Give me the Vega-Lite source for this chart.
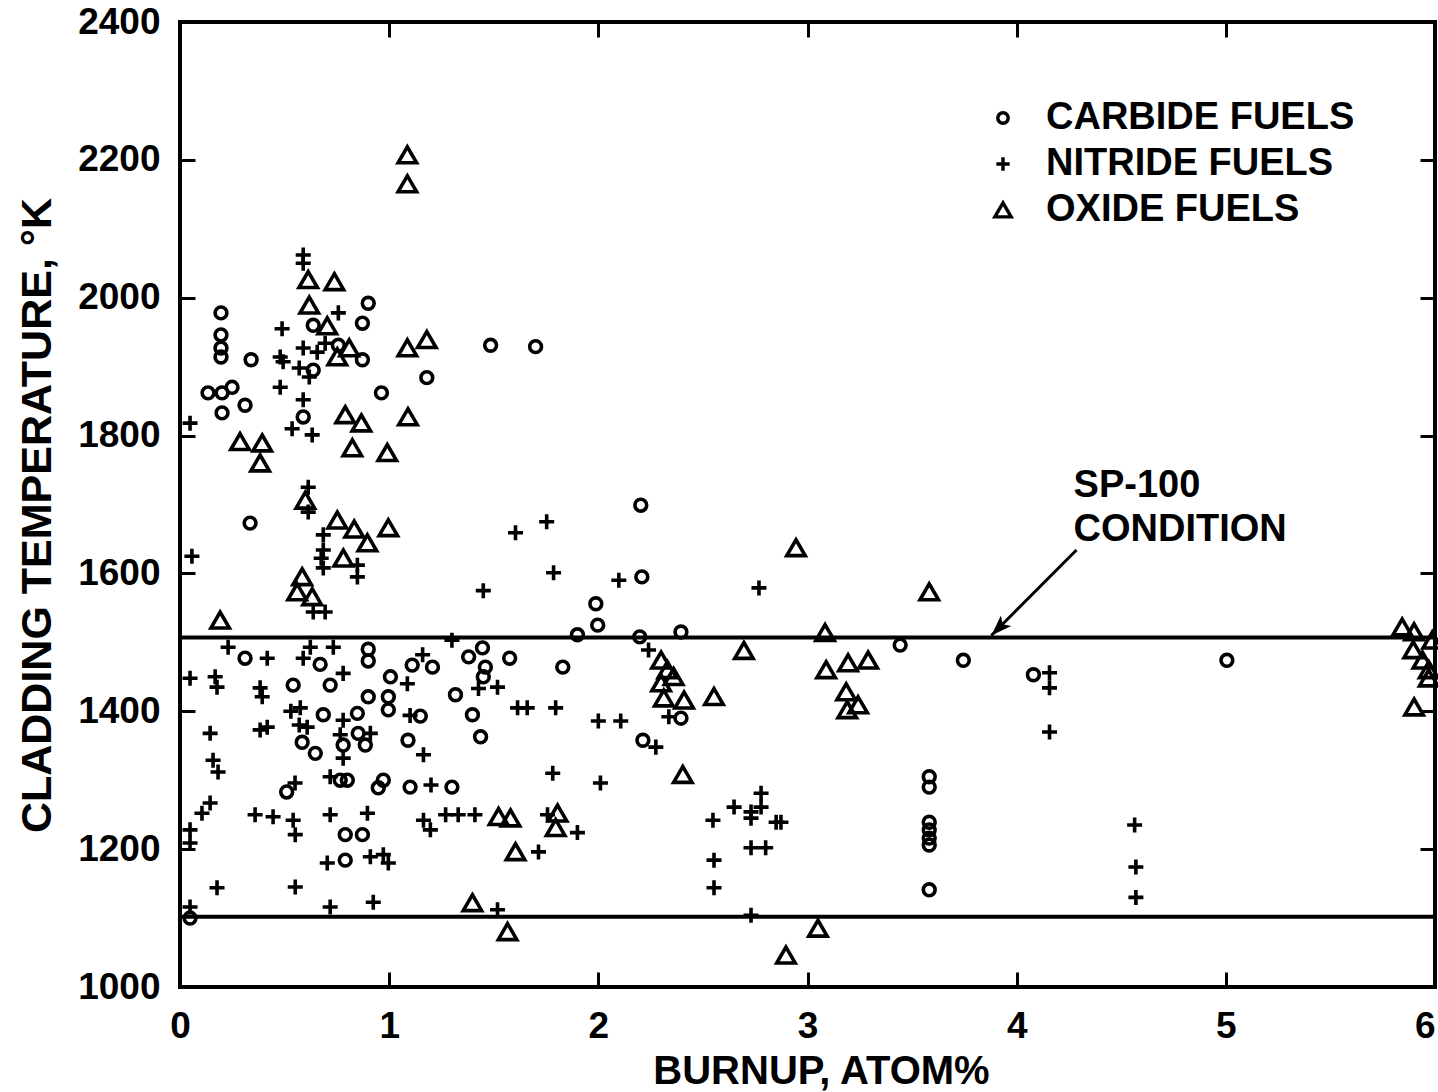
{
  "$schema": "https://vega.github.io/schema/vega-lite/v6.json",
  "width": 1255,
  "height": 965,
  "autosize": {"type": "none"},
  "padding": {"left": 180, "top": 22, "right": 3, "bottom": 105},
  "background": "white",
  "config": {
    "view": {"stroke": "black", "strokeWidth": 4},
    "font": "Liberation Sans",
    "axis": {
      "grid": false,
      "domain": false,
      "tickColor": "black",
      "tickWidth": 3,
      "labelColor": "black",
      "titleColor": "black",
      "labelFont": "Liberation Sans",
      "titleFont": "Liberation Sans",
      "labelFontWeight": "bold",
      "titleFontWeight": "bold",
      "labelFlush": false,
      "labelOverlap": false,
      "labelBound": false
    }
  },
  "datasets": {
    "pts": [
      {"burnup": 0.90, "temp": 1992, "fuel": "CARBIDE FUELS"},
      {"burnup": 0.196, "temp": 1978, "fuel": "CARBIDE FUELS"},
      {"burnup": 0.196, "temp": 1946, "fuel": "CARBIDE FUELS"},
      {"burnup": 0.196, "temp": 1927, "fuel": "CARBIDE FUELS"},
      {"burnup": 0.196, "temp": 1914, "fuel": "CARBIDE FUELS"},
      {"burnup": 0.637, "temp": 1960, "fuel": "CARBIDE FUELS"},
      {"burnup": 0.872, "temp": 1963, "fuel": "CARBIDE FUELS"},
      {"burnup": 0.34, "temp": 1910, "fuel": "CARBIDE FUELS"},
      {"burnup": 0.757, "temp": 1931, "fuel": "CARBIDE FUELS"},
      {"burnup": 0.872, "temp": 1910, "fuel": "CARBIDE FUELS"},
      {"burnup": 0.637, "temp": 1895, "fuel": "CARBIDE FUELS"},
      {"burnup": 0.134, "temp": 1862, "fuel": "CARBIDE FUELS"},
      {"burnup": 0.201, "temp": 1862, "fuel": "CARBIDE FUELS"},
      {"burnup": 0.249, "temp": 1870, "fuel": "CARBIDE FUELS"},
      {"burnup": 0.311, "temp": 1844, "fuel": "CARBIDE FUELS"},
      {"burnup": 0.201, "temp": 1833, "fuel": "CARBIDE FUELS"},
      {"burnup": 0.963, "temp": 1862, "fuel": "CARBIDE FUELS"},
      {"burnup": 1.18, "temp": 1884, "fuel": "CARBIDE FUELS"},
      {"burnup": 0.589, "temp": 1827, "fuel": "CARBIDE FUELS"},
      {"burnup": 1.485, "temp": 1931, "fuel": "CARBIDE FUELS"},
      {"burnup": 1.70, "temp": 1929, "fuel": "CARBIDE FUELS"},
      {"burnup": 0.335, "temp": 1673, "fuel": "CARBIDE FUELS"},
      {"burnup": 2.203, "temp": 1699, "fuel": "CARBIDE FUELS"},
      {"burnup": 2.208, "temp": 1595, "fuel": "CARBIDE FUELS"},
      {"burnup": 1.988, "temp": 1556, "fuel": "CARBIDE FUELS"},
      {"burnup": 1.997, "temp": 1525, "fuel": "CARBIDE FUELS"},
      {"burnup": 1.90, "temp": 1511, "fuel": "CARBIDE FUELS"},
      {"burnup": 2.198, "temp": 1508, "fuel": "CARBIDE FUELS"},
      {"burnup": 2.395, "temp": 1515, "fuel": "CARBIDE FUELS"},
      {"burnup": 0.311, "temp": 1477, "fuel": "CARBIDE FUELS"},
      {"burnup": 0.67, "temp": 1468, "fuel": "CARBIDE FUELS"},
      {"burnup": 0.90, "temp": 1490, "fuel": "CARBIDE FUELS"},
      {"burnup": 0.90, "temp": 1473, "fuel": "CARBIDE FUELS"},
      {"burnup": 0.541, "temp": 1438, "fuel": "CARBIDE FUELS"},
      {"burnup": 0.718, "temp": 1438, "fuel": "CARBIDE FUELS"},
      {"burnup": 1.006, "temp": 1450, "fuel": "CARBIDE FUELS"},
      {"burnup": 1.11, "temp": 1467, "fuel": "CARBIDE FUELS"},
      {"burnup": 0.90, "temp": 1421, "fuel": "CARBIDE FUELS"},
      {"burnup": 0.996, "temp": 1421, "fuel": "CARBIDE FUELS"},
      {"burnup": 0.996, "temp": 1402, "fuel": "CARBIDE FUELS"},
      {"burnup": 1.149, "temp": 1393, "fuel": "CARBIDE FUELS"},
      {"burnup": 0.685, "temp": 1395, "fuel": "CARBIDE FUELS"},
      {"burnup": 0.848, "temp": 1397, "fuel": "CARBIDE FUELS"},
      {"burnup": 0.584, "temp": 1355, "fuel": "CARBIDE FUELS"},
      {"burnup": 0.647, "temp": 1339, "fuel": "CARBIDE FUELS"},
      {"burnup": 0.78, "temp": 1351, "fuel": "CARBIDE FUELS"},
      {"burnup": 0.852, "temp": 1368, "fuel": "CARBIDE FUELS"},
      {"burnup": 0.886, "temp": 1351, "fuel": "CARBIDE FUELS"},
      {"burnup": 1.09, "temp": 1358, "fuel": "CARBIDE FUELS"},
      {"burnup": 0.766, "temp": 1300, "fuel": "CARBIDE FUELS"},
      {"burnup": 0.80, "temp": 1300, "fuel": "CARBIDE FUELS"},
      {"burnup": 0.948, "temp": 1289, "fuel": "CARBIDE FUELS"},
      {"burnup": 0.972, "temp": 1300, "fuel": "CARBIDE FUELS"},
      {"burnup": 1.10, "temp": 1290, "fuel": "CARBIDE FUELS"},
      {"burnup": 0.51, "temp": 1283, "fuel": "CARBIDE FUELS"},
      {"burnup": 0.79, "temp": 1221, "fuel": "CARBIDE FUELS"},
      {"burnup": 0.872, "temp": 1221, "fuel": "CARBIDE FUELS"},
      {"burnup": 0.79, "temp": 1184, "fuel": "CARBIDE FUELS"},
      {"burnup": 0.048, "temp": 1100, "fuel": "CARBIDE FUELS"},
      {"burnup": 1.207, "temp": 1464, "fuel": "CARBIDE FUELS"},
      {"burnup": 1.38, "temp": 1479, "fuel": "CARBIDE FUELS"},
      {"burnup": 1.446, "temp": 1492, "fuel": "CARBIDE FUELS"},
      {"burnup": 1.46, "temp": 1464, "fuel": "CARBIDE FUELS"},
      {"burnup": 1.45, "temp": 1450, "fuel": "CARBIDE FUELS"},
      {"burnup": 1.576, "temp": 1477, "fuel": "CARBIDE FUELS"},
      {"burnup": 1.83, "temp": 1464, "fuel": "CARBIDE FUELS"},
      {"burnup": 1.317, "temp": 1424, "fuel": "CARBIDE FUELS"},
      {"burnup": 1.398, "temp": 1395, "fuel": "CARBIDE FUELS"},
      {"burnup": 1.437, "temp": 1363, "fuel": "CARBIDE FUELS"},
      {"burnup": 1.30, "temp": 1290, "fuel": "CARBIDE FUELS"},
      {"burnup": 2.213, "temp": 1358, "fuel": "CARBIDE FUELS"},
      {"burnup": 2.395, "temp": 1390, "fuel": "CARBIDE FUELS"},
      {"burnup": 3.443, "temp": 1496, "fuel": "CARBIDE FUELS"},
      {"burnup": 3.745, "temp": 1474, "fuel": "CARBIDE FUELS"},
      {"burnup": 4.08, "temp": 1453, "fuel": "CARBIDE FUELS"},
      {"burnup": 5.005, "temp": 1474, "fuel": "CARBIDE FUELS"},
      {"burnup": 3.582, "temp": 1305, "fuel": "CARBIDE FUELS"},
      {"burnup": 3.582, "temp": 1290, "fuel": "CARBIDE FUELS"},
      {"burnup": 3.582, "temp": 1239, "fuel": "CARBIDE FUELS"},
      {"burnup": 3.582, "temp": 1228, "fuel": "CARBIDE FUELS"},
      {"burnup": 3.582, "temp": 1216, "fuel": "CARBIDE FUELS"},
      {"burnup": 3.582, "temp": 1206, "fuel": "CARBIDE FUELS"},
      {"burnup": 3.582, "temp": 1141, "fuel": "CARBIDE FUELS"},

      {"burnup": 0.589, "temp": 2062, "fuel": "NITRIDE FUELS"},
      {"burnup": 0.589, "temp": 2050, "fuel": "NITRIDE FUELS"},
      {"burnup": 0.757, "temp": 1978, "fuel": "NITRIDE FUELS"},
      {"burnup": 0.488, "temp": 1955, "fuel": "NITRIDE FUELS"},
      {"burnup": 0.479, "temp": 1914, "fuel": "NITRIDE FUELS"},
      {"burnup": 0.493, "temp": 1907, "fuel": "NITRIDE FUELS"},
      {"burnup": 0.589, "temp": 1927, "fuel": "NITRIDE FUELS"},
      {"burnup": 0.656, "temp": 1921, "fuel": "NITRIDE FUELS"},
      {"burnup": 0.694, "temp": 1934, "fuel": "NITRIDE FUELS"},
      {"burnup": 0.57, "temp": 1898, "fuel": "NITRIDE FUELS"},
      {"burnup": 0.618, "temp": 1885, "fuel": "NITRIDE FUELS"},
      {"burnup": 0.479, "temp": 1870, "fuel": "NITRIDE FUELS"},
      {"burnup": 0.589, "temp": 1852, "fuel": "NITRIDE FUELS"},
      {"burnup": 0.536, "temp": 1810, "fuel": "NITRIDE FUELS"},
      {"burnup": 0.632, "temp": 1801, "fuel": "NITRIDE FUELS"},
      {"burnup": 0.048, "temp": 1818, "fuel": "NITRIDE FUELS"},
      {"burnup": 0.613, "temp": 1725, "fuel": "NITRIDE FUELS"},
      {"burnup": 0.613, "temp": 1689, "fuel": "NITRIDE FUELS"},
      {"burnup": 0.685, "temp": 1656, "fuel": "NITRIDE FUELS"},
      {"burnup": 0.685, "temp": 1634, "fuel": "NITRIDE FUELS"},
      {"burnup": 0.675, "temp": 1622, "fuel": "NITRIDE FUELS"},
      {"burnup": 0.685, "temp": 1608, "fuel": "NITRIDE FUELS"},
      {"burnup": 0.848, "temp": 1612, "fuel": "NITRIDE FUELS"},
      {"burnup": 0.848, "temp": 1595, "fuel": "NITRIDE FUELS"},
      {"burnup": 0.057, "temp": 1625, "fuel": "NITRIDE FUELS"},
      {"burnup": 0.637, "temp": 1544, "fuel": "NITRIDE FUELS"},
      {"burnup": 0.694, "temp": 1544, "fuel": "NITRIDE FUELS"},
      {"burnup": 1.604, "temp": 1659, "fuel": "NITRIDE FUELS"},
      {"burnup": 1.753, "temp": 1675, "fuel": "NITRIDE FUELS"},
      {"burnup": 1.786, "temp": 1601, "fuel": "NITRIDE FUELS"},
      {"burnup": 1.45, "temp": 1575, "fuel": "NITRIDE FUELS"},
      {"burnup": 2.098, "temp": 1590, "fuel": "NITRIDE FUELS"},
      {"burnup": 1.30, "temp": 1503, "fuel": "NITRIDE FUELS"},
      {"burnup": 2.24, "temp": 1489, "fuel": "NITRIDE FUELS"},
      {"burnup": 2.768, "temp": 1579, "fuel": "NITRIDE FUELS"},
      {"burnup": 0.23, "temp": 1493, "fuel": "NITRIDE FUELS"},
      {"burnup": 0.417, "temp": 1477, "fuel": "NITRIDE FUELS"},
      {"burnup": 0.623, "temp": 1493, "fuel": "NITRIDE FUELS"},
      {"burnup": 0.733, "temp": 1493, "fuel": "NITRIDE FUELS"},
      {"burnup": 0.589, "temp": 1477, "fuel": "NITRIDE FUELS"},
      {"burnup": 0.048, "temp": 1448, "fuel": "NITRIDE FUELS"},
      {"burnup": 0.168, "temp": 1450, "fuel": "NITRIDE FUELS"},
      {"burnup": 0.177, "temp": 1435, "fuel": "NITRIDE FUELS"},
      {"burnup": 0.383, "temp": 1434, "fuel": "NITRIDE FUELS"},
      {"burnup": 0.393, "temp": 1421, "fuel": "NITRIDE FUELS"},
      {"burnup": 0.78, "temp": 1455, "fuel": "NITRIDE FUELS"},
      {"burnup": 1.087, "temp": 1440, "fuel": "NITRIDE FUELS"},
      {"burnup": 0.53, "temp": 1400, "fuel": "NITRIDE FUELS"},
      {"burnup": 0.575, "temp": 1405, "fuel": "NITRIDE FUELS"},
      {"burnup": 0.57, "temp": 1380, "fuel": "NITRIDE FUELS"},
      {"burnup": 0.78, "temp": 1387, "fuel": "NITRIDE FUELS"},
      {"burnup": 0.144, "temp": 1368, "fuel": "NITRIDE FUELS"},
      {"burnup": 0.383, "temp": 1373, "fuel": "NITRIDE FUELS"},
      {"burnup": 0.417, "temp": 1377, "fuel": "NITRIDE FUELS"},
      {"burnup": 0.608, "temp": 1377, "fuel": "NITRIDE FUELS"},
      {"burnup": 0.766, "temp": 1366, "fuel": "NITRIDE FUELS"},
      {"burnup": 0.78, "temp": 1332, "fuel": "NITRIDE FUELS"},
      {"burnup": 0.91, "temp": 1368, "fuel": "NITRIDE FUELS"},
      {"burnup": 1.164, "temp": 1337, "fuel": "NITRIDE FUELS"},
      {"burnup": 1.10, "temp": 1394, "fuel": "NITRIDE FUELS"},
      {"burnup": 0.158, "temp": 1329, "fuel": "NITRIDE FUELS"},
      {"burnup": 0.182, "temp": 1312, "fuel": "NITRIDE FUELS"},
      {"burnup": 0.718, "temp": 1305, "fuel": "NITRIDE FUELS"},
      {"burnup": 1.20, "temp": 1293, "fuel": "NITRIDE FUELS"},
      {"burnup": 0.55, "temp": 1296, "fuel": "NITRIDE FUELS"},
      {"burnup": 0.144, "temp": 1267, "fuel": "NITRIDE FUELS"},
      {"burnup": 0.105, "temp": 1252, "fuel": "NITRIDE FUELS"},
      {"burnup": 0.359, "temp": 1250, "fuel": "NITRIDE FUELS"},
      {"burnup": 0.445, "temp": 1247, "fuel": "NITRIDE FUELS"},
      {"burnup": 0.541, "temp": 1242, "fuel": "NITRIDE FUELS"},
      {"burnup": 0.718, "temp": 1250, "fuel": "NITRIDE FUELS"},
      {"burnup": 0.896, "temp": 1252, "fuel": "NITRIDE FUELS"},
      {"burnup": 1.164, "temp": 1242, "fuel": "NITRIDE FUELS"},
      {"burnup": 1.197, "temp": 1228, "fuel": "NITRIDE FUELS"},
      {"burnup": 1.27, "temp": 1250, "fuel": "NITRIDE FUELS"},
      {"burnup": 1.33, "temp": 1250, "fuel": "NITRIDE FUELS"},
      {"burnup": 1.41, "temp": 1250, "fuel": "NITRIDE FUELS"},
      {"burnup": 0.551, "temp": 1221, "fuel": "NITRIDE FUELS"},
      {"burnup": 0.704, "temp": 1180, "fuel": "NITRIDE FUELS"},
      {"burnup": 0.91, "temp": 1189, "fuel": "NITRIDE FUELS"},
      {"burnup": 0.972, "temp": 1192, "fuel": "NITRIDE FUELS"},
      {"burnup": 0.996, "temp": 1180, "fuel": "NITRIDE FUELS"},
      {"burnup": 0.048, "temp": 1228, "fuel": "NITRIDE FUELS"},
      {"burnup": 0.048, "temp": 1209, "fuel": "NITRIDE FUELS"},
      {"burnup": 0.177, "temp": 1144, "fuel": "NITRIDE FUELS"},
      {"burnup": 0.551, "temp": 1145, "fuel": "NITRIDE FUELS"},
      {"burnup": 0.718, "temp": 1116, "fuel": "NITRIDE FUELS"},
      {"burnup": 0.924, "temp": 1123, "fuel": "NITRIDE FUELS"},
      {"burnup": 0.048, "temp": 1116, "fuel": "NITRIDE FUELS"},
      {"burnup": 1.16, "temp": 1482, "fuel": "NITRIDE FUELS"},
      {"burnup": 1.427, "temp": 1433, "fuel": "NITRIDE FUELS"},
      {"burnup": 1.518, "temp": 1435, "fuel": "NITRIDE FUELS"},
      {"burnup": 1.614, "temp": 1405, "fuel": "NITRIDE FUELS"},
      {"burnup": 1.66, "temp": 1405, "fuel": "NITRIDE FUELS"},
      {"burnup": 1.796, "temp": 1405, "fuel": "NITRIDE FUELS"},
      {"burnup": 2.0, "temp": 1386, "fuel": "NITRIDE FUELS"},
      {"burnup": 2.107, "temp": 1386, "fuel": "NITRIDE FUELS"},
      {"burnup": 2.275, "temp": 1348, "fuel": "NITRIDE FUELS"},
      {"burnup": 2.337, "temp": 1392, "fuel": "NITRIDE FUELS"},
      {"burnup": 1.782, "temp": 1310, "fuel": "NITRIDE FUELS"},
      {"burnup": 2.01, "temp": 1296, "fuel": "NITRIDE FUELS"},
      {"burnup": 1.757, "temp": 1250, "fuel": "NITRIDE FUELS"},
      {"burnup": 1.90, "temp": 1224, "fuel": "NITRIDE FUELS"},
      {"burnup": 1.714, "temp": 1196, "fuel": "NITRIDE FUELS"},
      {"burnup": 1.518, "temp": 1112, "fuel": "NITRIDE FUELS"},
      {"burnup": 2.548, "temp": 1242, "fuel": "NITRIDE FUELS"},
      {"burnup": 2.649, "temp": 1261, "fuel": "NITRIDE FUELS"},
      {"burnup": 2.73, "temp": 1245, "fuel": "NITRIDE FUELS"},
      {"burnup": 2.73, "temp": 1254, "fuel": "NITRIDE FUELS"},
      {"burnup": 2.778, "temp": 1281, "fuel": "NITRIDE FUELS"},
      {"burnup": 2.778, "temp": 1261, "fuel": "NITRIDE FUELS"},
      {"burnup": 2.85, "temp": 1239, "fuel": "NITRIDE FUELS"},
      {"burnup": 2.873, "temp": 1239, "fuel": "NITRIDE FUELS"},
      {"burnup": 2.73, "temp": 1202, "fuel": "NITRIDE FUELS"},
      {"burnup": 2.80, "temp": 1202, "fuel": "NITRIDE FUELS"},
      {"burnup": 2.553, "temp": 1184, "fuel": "NITRIDE FUELS"},
      {"burnup": 2.553, "temp": 1144, "fuel": "NITRIDE FUELS"},
      {"burnup": 2.73, "temp": 1104, "fuel": "NITRIDE FUELS"},
      {"burnup": 4.157, "temp": 1456, "fuel": "NITRIDE FUELS"},
      {"burnup": 4.157, "temp": 1434, "fuel": "NITRIDE FUELS"},
      {"burnup": 4.157, "temp": 1370, "fuel": "NITRIDE FUELS"},
      {"burnup": 4.564, "temp": 1235, "fuel": "NITRIDE FUELS"},
      {"burnup": 4.57, "temp": 1174, "fuel": "NITRIDE FUELS"},
      {"burnup": 4.57, "temp": 1130, "fuel": "NITRIDE FUELS"},

      {"burnup": 1.087, "temp": 2207, "fuel": "OXIDE FUELS"},
      {"burnup": 1.087, "temp": 2165, "fuel": "OXIDE FUELS"},
      {"burnup": 0.613, "temp": 2026, "fuel": "OXIDE FUELS"},
      {"burnup": 0.738, "temp": 2023, "fuel": "OXIDE FUELS"},
      {"burnup": 0.618, "temp": 1989, "fuel": "OXIDE FUELS"},
      {"burnup": 0.704, "temp": 1959, "fuel": "OXIDE FUELS"},
      {"burnup": 0.809, "temp": 1927, "fuel": "OXIDE FUELS"},
      {"burnup": 0.752, "temp": 1914, "fuel": "OXIDE FUELS"},
      {"burnup": 1.087, "temp": 1927, "fuel": "OXIDE FUELS"},
      {"burnup": 1.18, "temp": 1939, "fuel": "OXIDE FUELS"},
      {"burnup": 1.09, "temp": 1827, "fuel": "OXIDE FUELS"},
      {"burnup": 0.79, "temp": 1830, "fuel": "OXIDE FUELS"},
      {"burnup": 0.867, "temp": 1818, "fuel": "OXIDE FUELS"},
      {"burnup": 0.287, "temp": 1791, "fuel": "OXIDE FUELS"},
      {"burnup": 0.393, "temp": 1789, "fuel": "OXIDE FUELS"},
      {"burnup": 0.383, "temp": 1760, "fuel": "OXIDE FUELS"},
      {"burnup": 0.824, "temp": 1782, "fuel": "OXIDE FUELS"},
      {"burnup": 0.991, "temp": 1775, "fuel": "OXIDE FUELS"},
      {"burnup": 0.599, "temp": 1706, "fuel": "OXIDE FUELS"},
      {"burnup": 0.752, "temp": 1677, "fuel": "OXIDE FUELS"},
      {"burnup": 0.833, "temp": 1664, "fuel": "OXIDE FUELS"},
      {"burnup": 0.896, "temp": 1644, "fuel": "OXIDE FUELS"},
      {"burnup": 0.996, "temp": 1666, "fuel": "OXIDE FUELS"},
      {"burnup": 0.781, "temp": 1622, "fuel": "OXIDE FUELS"},
      {"burnup": 0.584, "temp": 1595, "fuel": "OXIDE FUELS"},
      {"burnup": 0.56, "temp": 1573, "fuel": "OXIDE FUELS"},
      {"burnup": 0.632, "temp": 1566, "fuel": "OXIDE FUELS"},
      {"burnup": 0.192, "temp": 1532, "fuel": "OXIDE FUELS"},
      {"burnup": 2.30, "temp": 1474, "fuel": "OXIDE FUELS"},
      {"burnup": 2.33, "temp": 1460, "fuel": "OXIDE FUELS"},
      {"burnup": 2.36, "temp": 1450, "fuel": "OXIDE FUELS"},
      {"burnup": 2.30, "temp": 1441, "fuel": "OXIDE FUELS"},
      {"burnup": 2.313, "temp": 1419, "fuel": "OXIDE FUELS"},
      {"burnup": 2.41, "temp": 1416, "fuel": "OXIDE FUELS"},
      {"burnup": 2.404, "temp": 1308, "fuel": "OXIDE FUELS"},
      {"burnup": 1.523, "temp": 1247, "fuel": "OXIDE FUELS"},
      {"burnup": 1.58, "temp": 1245, "fuel": "OXIDE FUELS"},
      {"burnup": 1.805, "temp": 1252, "fuel": "OXIDE FUELS"},
      {"burnup": 1.796, "temp": 1231, "fuel": "OXIDE FUELS"},
      {"burnup": 1.604, "temp": 1196, "fuel": "OXIDE FUELS"},
      {"burnup": 1.398, "temp": 1122, "fuel": "OXIDE FUELS"},
      {"burnup": 1.566, "temp": 1080, "fuel": "OXIDE FUELS"},
      {"burnup": 2.945, "temp": 1637, "fuel": "OXIDE FUELS"},
      {"burnup": 3.582, "temp": 1573, "fuel": "OXIDE FUELS"},
      {"burnup": 3.084, "temp": 1514, "fuel": "OXIDE FUELS"},
      {"burnup": 2.696, "temp": 1488, "fuel": "OXIDE FUELS"},
      {"burnup": 3.089, "temp": 1460, "fuel": "OXIDE FUELS"},
      {"burnup": 3.194, "temp": 1470, "fuel": "OXIDE FUELS"},
      {"burnup": 3.29, "temp": 1474, "fuel": "OXIDE FUELS"},
      {"burnup": 3.185, "temp": 1428, "fuel": "OXIDE FUELS"},
      {"burnup": 3.242, "temp": 1409, "fuel": "OXIDE FUELS"},
      {"burnup": 3.19, "temp": 1402, "fuel": "OXIDE FUELS"},
      {"burnup": 2.553, "temp": 1421, "fuel": "OXIDE FUELS"},
      {"burnup": 3.05, "temp": 1085, "fuel": "OXIDE FUELS"},
      {"burnup": 2.897, "temp": 1046, "fuel": "OXIDE FUELS"},
      {"burnup": 5.843, "temp": 1522, "fuel": "OXIDE FUELS"},
      {"burnup": 5.90, "temp": 1515, "fuel": "OXIDE FUELS"},
      {"burnup": 5.987, "temp": 1503, "fuel": "OXIDE FUELS"},
      {"burnup": 5.896, "temp": 1489, "fuel": "OXIDE FUELS"},
      {"burnup": 5.94, "temp": 1474, "fuel": "OXIDE FUELS"},
      {"burnup": 5.97, "temp": 1460, "fuel": "OXIDE FUELS"},
      {"burnup": 5.97, "temp": 1448, "fuel": "OXIDE FUELS"},
      {"burnup": 5.90, "temp": 1406, "fuel": "OXIDE FUELS"}
    ],
    "limits": [
      {"temp": 1507},
      {"temp": 1102}
    ],
    "arrow": [
      {"x0": 4.286, "y0": 1634, "x1": 3.879, "y1": 1510}
    ],
    "note": [
      {"burnup": 4.272, "temp": 1727, "label": "SP-100\nCONDITION"}
    ]
  },
  "resolve": {"axis": {"x": "independent", "y": "independent"}},
  "layer": [
    {
      "data": {"name": "pts"},
      "mark": {"type": "point", "filled": false, "strokeWidth": 3.6, "color": "black", "opacity": 1, "size": 460},
      "encoding": {
        "x": {
          "field": "burnup", "type": "quantitative",
          "scale": {"domain": [0, 6], "nice": false, "zero": false},
          "axis": {
            "orient": "bottom",
            "values": [0, 1, 2, 3, 4, 5, 6],
            "format": "d",
            "tickSize": -15,
            "labelPadding": 36,
            "labelFontSize": 37,
            "labelAlign": {"condition": {"test": "datum.value == 6", "value": "right"}, "value": "center"},
            "title": "BURNUP, ATOM%",
            "titleFontSize": 40,
            "titleX": 641,
            "titleY": 84,
            "titleAlign": "center",
            "titleBaseline": "middle",
            "titleAngle": 0
          }
        },
        "y": {
          "field": "temp", "type": "quantitative",
          "scale": {"domain": [1000, 2400], "nice": false, "zero": false},
          "axis": {
            "orient": "left",
            "values": [1000, 1200, 1400, 1600, 1800, 2000, 2200, 2400],
            "format": "d",
            "tickSize": -15,
            "labelPadding": 35,
            "labelFontSize": 37,
            "title": "CLADDING TEMPERATURE, °K",
            "titleFontSize": 43,
            "titleX": -143,
            "titleY": 493,
            "titleAngle": -90,
            "titleAlign": "center",
            "titleBaseline": "middle"
          }
        },
        "shape": {
          "field": "fuel", "type": "nominal",
          "scale": {
            "domain": ["CARBIDE FUELS", "NITRIDE FUELS", "OXIDE FUELS"],
            "range": [
              "M-0.55,0A0.55,0.55 0 1,0 0.55,0A0.55,0.55 0 1,0 -0.55,0Z",
              "M-0.7,0H0.7M0,-0.7V0.7",
              "M0,-0.76L0.86,0.72L-0.86,0.72Z"
            ]
          },
          "legend": {
            "title": null,
            "orient": "none",
            "legendX": 804,
            "legendY": 77,
            "labelFont": "Liberation Sans",
            "labelFontWeight": "bold",
            "labelFontSize": 38,
            "labelColor": "black",
            "labelLimit": 0,
            "labelOffset": 24,
            "rowPadding": 8,
            "symbolSize": 360,
            "symbolStrokeWidth": 3.4,
            "symbolStrokeColor": "black"
          }
        }
      }
    },
    {
      "data": {"name": "limits"},
      "mark": {"type": "rule", "strokeWidth": 4, "color": "black"},
      "encoding": {
        "y": {
          "field": "temp", "type": "quantitative",
          "axis": {
            "orient": "right",
            "values": [1200, 1400, 1600, 1800, 2000, 2200],
            "labels": false,
            "tickSize": -15,
            "title": null
          }
        }
      }
    },
    {
      "data": {"name": "arrow"},
      "mark": {"type": "rule", "strokeWidth": 3, "color": "black"},
      "encoding": {
        "x": {
          "field": "x0", "type": "quantitative",
          "axis": {
            "orient": "top",
            "values": [1, 2, 3, 4, 5],
            "labels": false,
            "tickSize": -15,
            "title": null
          }
        },
        "y": {"field": "y0", "type": "quantitative", "axis": null},
        "x2": {"field": "x1"},
        "y2": {"field": "y1"}
      }
    },
    {
      "data": {"name": "arrow"},
      "mark": {
        "type": "point",
        "shape": "M0,0L-0.6,1.7L0,1.3L0.6,1.7Z",
        "filled": true,
        "color": "black",
        "opacity": 1,
        "size": 600,
        "angle": 225
      },
      "encoding": {
        "x": {"field": "x1", "type": "quantitative", "axis": null},
        "y": {"field": "y1", "type": "quantitative", "axis": null}
      }
    },
    {
      "data": {"name": "note"},
      "mark": {
        "type": "text",
        "align": "left",
        "baseline": "middle",
        "lineBreak": "\n",
        "lineHeight": 44,
        "font": "Liberation Sans",
        "fontWeight": "bold",
        "fontSize": 38,
        "color": "black"
      },
      "encoding": {
        "x": {"field": "burnup", "type": "quantitative", "axis": null},
        "y": {"field": "temp", "type": "quantitative", "axis": null},
        "text": {"field": "label"}
      }
    }
  ]
}
